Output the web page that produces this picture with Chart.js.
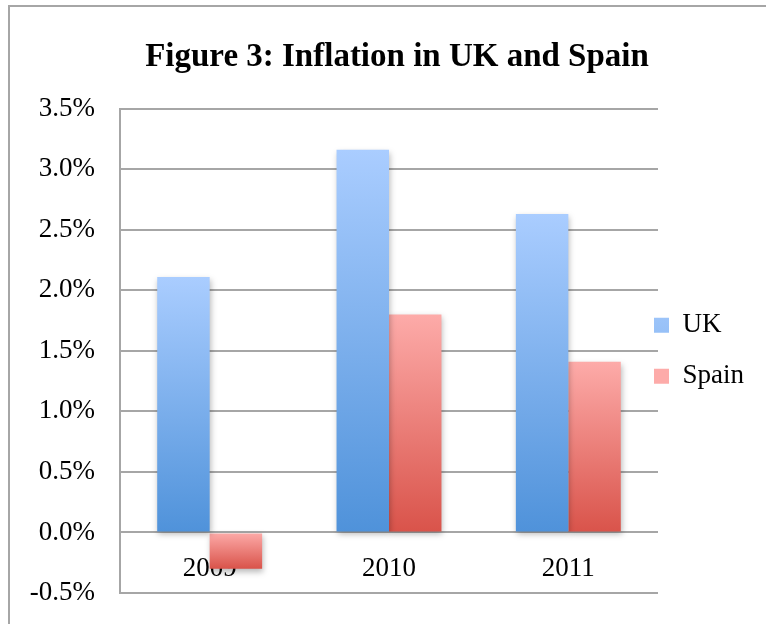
<!DOCTYPE html>
<html>
<head>
<meta charset="utf-8">
<script src="https://cdn.jsdelivr.net/npm/chart.js@4"></script>
<style>
  html, body { margin:0; padding:0; background:#fff; overflow:hidden; }
  #wrap { position:relative; width:766px; height:624px; }
  #frame { position:absolute; left:8px; top:5px; width:900px; height:900px; border-top:2px solid #a6a6a6; border-left:2px solid #a6a6a6; }
  #chart { position:absolute; left:0; top:0; }
</style>
</head>
<body>
<div id="wrap">
  <div id="frame"></div>
  <canvas id="chart" width="766" height="624"></canvas>
</div>
<script>
// Figure 3 data
const years = ['2009', '2010', '2011'];
const ukInflation = [2.11, 3.16, 2.63];
const spainInflation = [-0.30, 1.80, 1.41];
const yMin = -0.5, yMax = 3.5, yStep = 0.5;

const FONT = '"Liberation Serif", "Times New Roman", serif';
const LEGEND_PAD = 24;

// vertical gradient per bar: light at the top, deeper at the bottom
function barFill(light, dark, mid){
  return (c)=>{
    const chart = c.chart;
    if(c.type !== 'data' || !chart.chartArea || !chart.scales.y) return mid;
    const v = c.parsed.y;
    const ys = chart.scales.y;
    const top = ys.getPixelForValue(Math.max(v, 0));
    const bot = ys.getPixelForValue(Math.min(v, 0));
    if(!isFinite(top) || !isFinite(bot) || top === bot) return mid;
    const g = chart.ctx.createLinearGradient(0, top, 0, bot);
    g.addColorStop(0, light);
    g.addColorStop(1, dark);
    return g;
  };
}

// soft drop shadow under the bars
const barShadow = {
  id: 'barShadow',
  beforeDatasetsDraw(chart){
    const c = chart.ctx; c.save();
    c.shadowColor = 'rgba(0,0,0,0.28)'; c.shadowBlur = 6; c.shadowOffsetX = 1; c.shadowOffsetY = 3;
  },
  afterDatasetsDraw(chart){ chart.ctx.restore(); }
};

// legend uses labels.padding for both the left inset and the row gap, so pull it back left;
// the original title sits a little right of the canvas centre
const nudge = {
  id: 'nudge',
  afterLayout(chart){
    if(chart.legend) chart.legend.left -= LEGEND_PAD + 4;
    if(chart.titleBlock){ chart.titleBlock.left += 14; chart.titleBlock.right += 14; }
  }
};

new Chart(document.getElementById('chart'), {
  type: 'bar',
  data: {
    labels: years,
    datasets: [
      { label: 'UK', data: ukInflation, backgroundColor: barFill('#aacdff', '#4f92da', '#7fb0ee'), borderWidth: 0 },
      { label: 'Spain', data: spainInflation, backgroundColor: barFill('#fdaba9', '#d9534a', '#f08a84'), borderWidth: 0 }
    ]
  },
  options: {
    responsive: false,
    animation: false,
    layout: { padding: { left: 0, right: 0, top: 0, bottom: 31 } },
    categoryPercentage: 0.585,
    barPercentage: 1.0,
    plugins: {
      title: {
        display: true,
        text: 'Figure 3: Inflation in UK and Spain',
        color: '#000',
        font: { family: FONT, size: 33, weight: 'bold' },
        padding: { top: 38, bottom: 31 }
      },
      legend: {
        position: 'right',
        fullSize: false,
        maxWidth: 108,
        labels: {
          color: '#000',
          font: { family: FONT, size: 27 },
          boxWidth: 15, boxHeight: 15,
          padding: LEGEND_PAD
        }
      },
      tooltip: { enabled: false }
    },
    scales: {
      x: {
        position: { y: 0 },
        afterFit(scale){ scale.height = 0; scale.paddingBottom = 0; scale.paddingTop = 0; },
        grid: { display: false, drawTicks: false },
        border: { display: false },
        ticks: { color: '#000', font: { family: FONT, size: 27 }, padding: 20 }
      },
      y: {
        min: yMin, max: yMax,
        afterFit(scale){ scale.width = 120; scale.paddingTop = 0; scale.paddingBottom = 0; },
        grid: { color: '#a6a6a6', lineWidth: 2, drawTicks: false },
        border: { display: true, color: '#a6a6a6', width: 2 },
        ticks: {
          stepSize: yStep,
          color: '#000',
          font: { family: FONT, size: 27 },
          padding: 25,
          callback: v => v.toFixed(1) + '%'
        }
      }
    }
  },
  plugins: [barShadow, nudge]
});
</script>
</body>
</html>
